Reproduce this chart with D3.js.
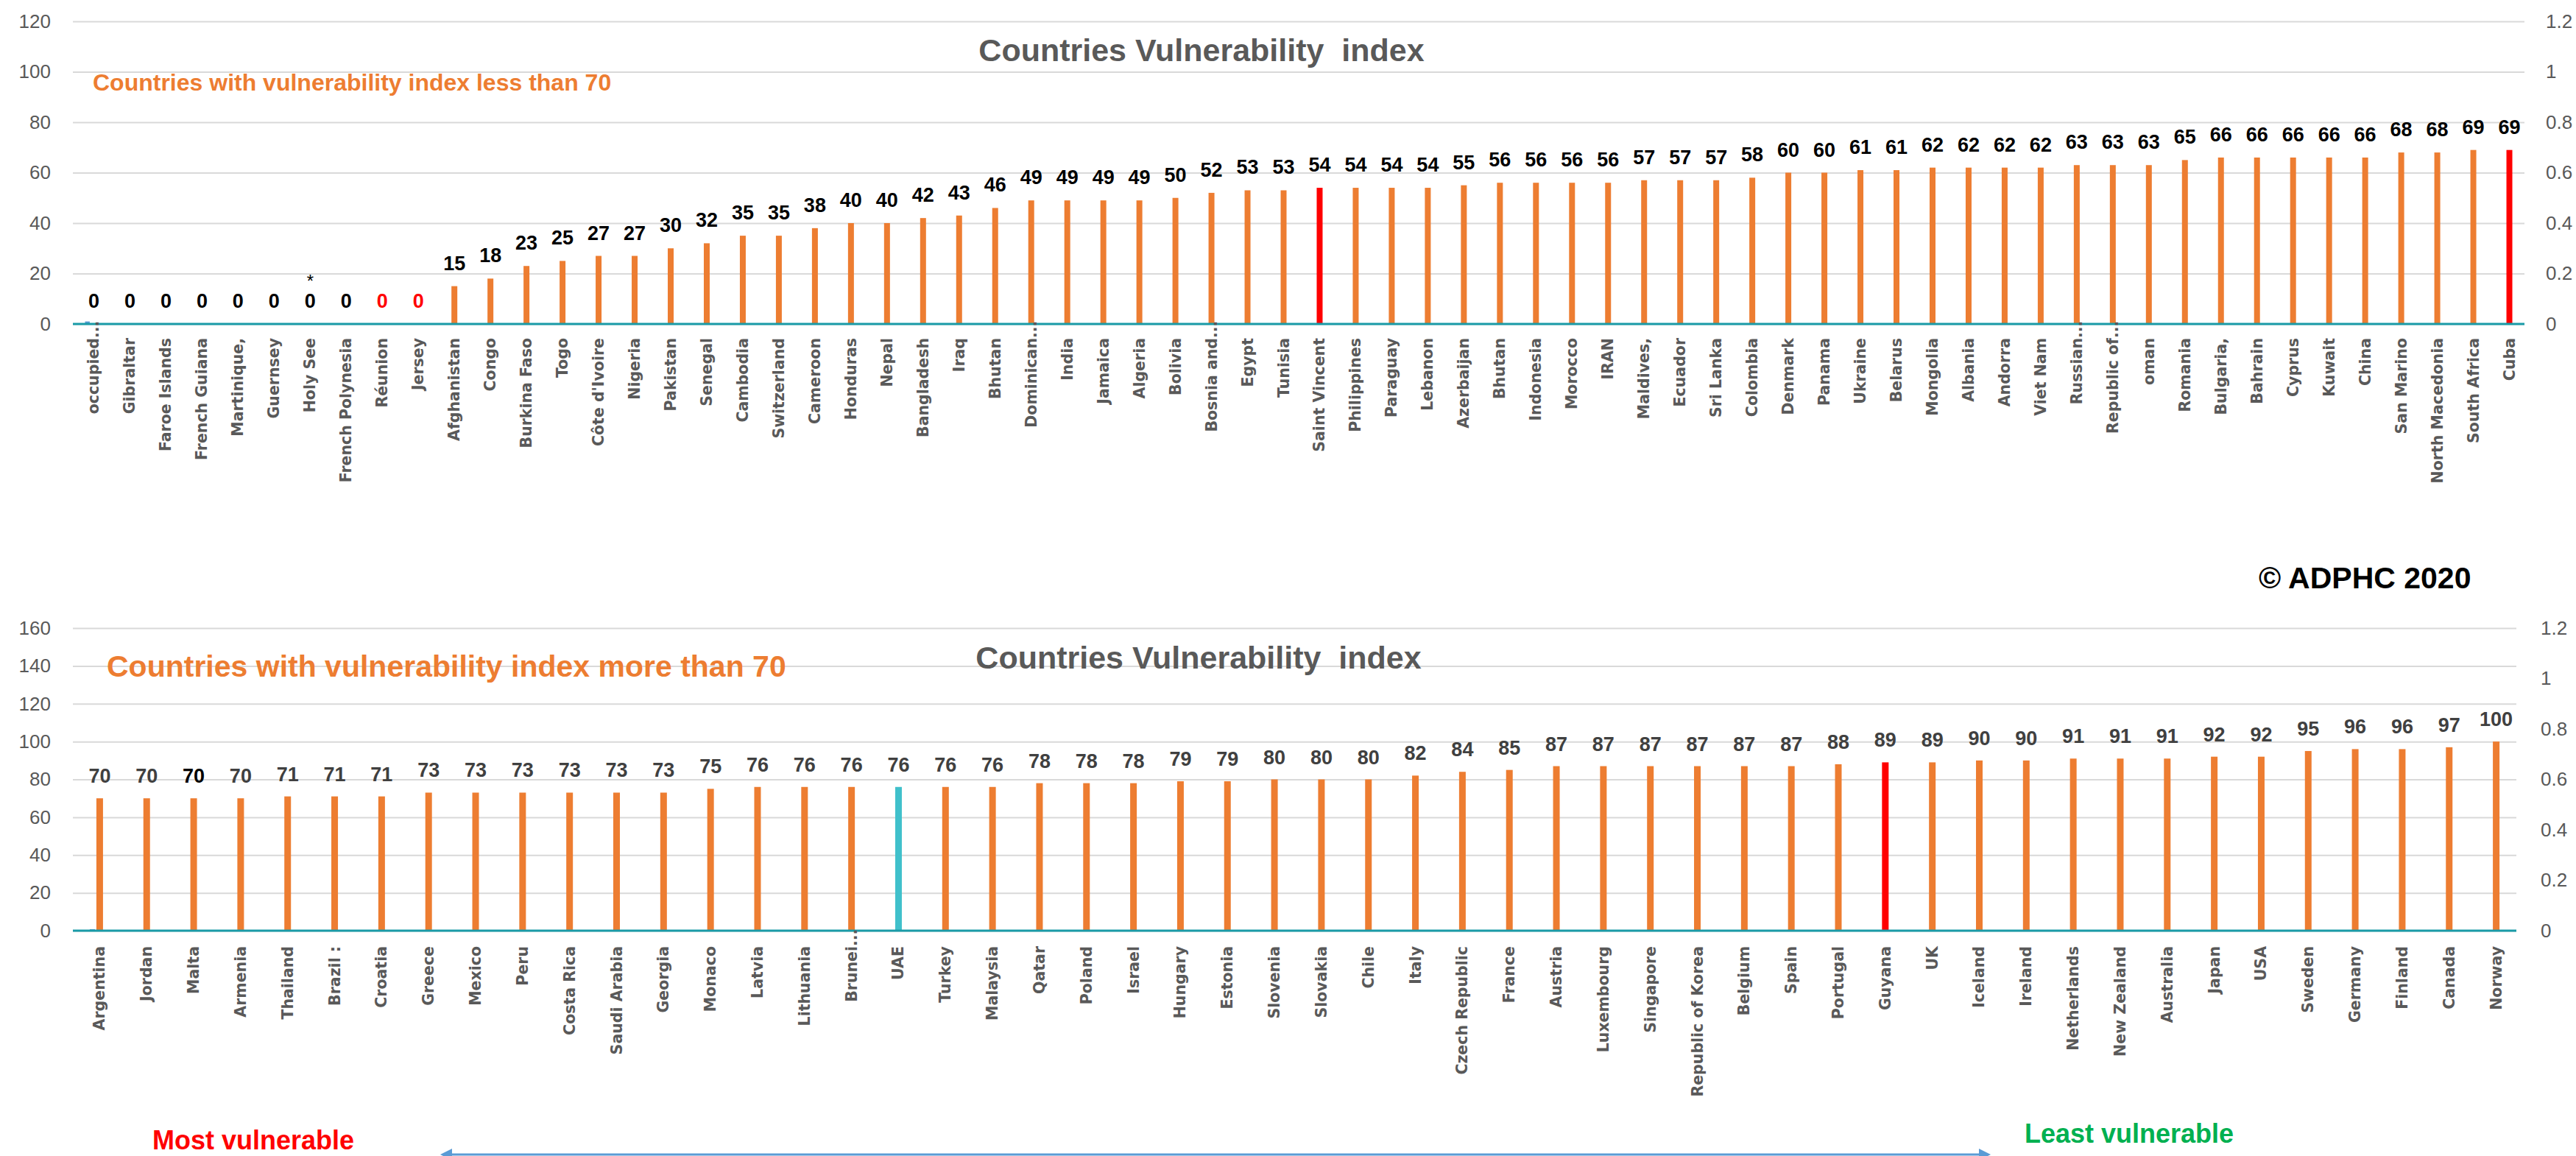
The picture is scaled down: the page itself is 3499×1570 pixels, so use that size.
<!DOCTYPE html>
<html>
<head>
<meta charset="utf-8">
<script src="https://cdn.jsdelivr.net/npm/d3@7"></script>
<style>
  html, body { margin: 0; padding: 0; background: #ffffff; }
  svg { display: block; }
</style>
</head>
<body>
<svg id="chart" width="3499" height="1570"></svg>
<script>
// ---- Data: countries with vulnerability index below 70 ----
const topCategories = [
  "occupied...", "Gibraltar", "Faroe Islands", "French Guiana", "Martinique,", "Guernsey",
  "Holy See", "French Polynesia", "Réunion", "Jersey", "Afghanistan", "Congo", "Burkina Faso",
  "Togo", "Côte d'Ivoire", "Nigeria", "Pakistan", "Senegal", "Cambodia", "Switzerland",
  "Cameroon", "Honduras", "Nepal", "Bangladesh", "Iraq", "Bhutan", "Dominican...", "India",
  "Jamaica", "Algeria", "Bolivia", "Bosnia and...", "Egypt", "Tunisia", "Saint Vincent",
  "Philippines", "Paraguay", "Lebanon", "Azerbaijan", "Bhutan", "Indonesia", "Morocco", "IRAN",
  "Maldives,", "Ecuador", "Sri Lanka", "Colombia", "Denmark", "Panama", "Ukraine", "Belarus",
  "Mongolia", "Albania", "Andorra", "Viet Nam", "Russian...", "Republic of...", "oman",
  "Romania", "Bulgaria,", "Bahrain", "Cyprus", "Kuwait", "China", "San Marino",
  "North Macedonia", "South Africa", "Cuba"
];
const topValues = [
  0, 0, 0, 0, 0, 0, 0, 0, 0, 0,
  15, 18, 23, 25, 27, 27, 30, 32, 35, 35,
  38, 40, 40, 42, 43, 46, 49, 49, 49, 49,
  50, 52, 53, 53, 54, 54, 54, 54, 55, 56,
  56, 56, 56, 57, 57, 57, 58, 60, 60, 61,
  61, 62, 62, 62, 62, 63, 63, 63, 65, 66,
  66, 66, 66, 66, 68, 68, 69, 69
];
// secondary (right-axis) series, only the first category carries a value
const topSecondary = [0.01];

// ---- Data: countries with vulnerability index of 70 and above ----
const bottomCategories = [
  "Argentina", "Jordan", "Malta", "Armenia", "Thailand", "Brazil :", "Croatia", "Greece",
  "Mexico", "Peru", "Costa Rica", "Saudi Arabia", "Georgia", "Monaco", "Latvia", "Lithuania",
  "Brunei...", "UAE", "Turkey", "Malaysia", "Qatar", "Poland", "Israel", "Hungary", "Estonia",
  "Slovenia", "Slovakia", "Chile", "Italy", "Czech Republic", "France", "Austria",
  "Luxembourg", "Singapore", "Republic of Korea", "Belgium", "Spain", "Portugal", "Guyana",
  "UK", "Iceland", "Ireland", "Netherlands", "New Zealand", "Australia", "Japan", "USA",
  "Sweden", "Germany", "Finland", "Canada", "Norway"
];
const bottomValues = [
  70, 70, 70, 70, 71, 71, 71, 73, 73, 73,
  73, 73, 73, 75, 76, 76, 76, 76, 76, 76,
  78, 78, 78, 79, 79, 80, 80, 80, 82, 84,
  85, 87, 87, 87, 87, 87, 87, 88, 89, 89,
  90, 90, 91, 91, 91, 92, 92, 95, 96, 96,
  97, 100
];
const bottomSecondary = [0.006];

// ---- Axis ticks ----
const topLeftTicks = [0, 20, 40, 60, 80, 100, 120];
const bottomLeftTicks = [0, 20, 40, 60, 80, 100, 120, 140, 160];
const rightTicks = [0, 0.2, 0.4, 0.6, 0.8, 1, 1.2];

// ---- Styling ----
const ORANGE = "#ED7D31";
const RED = "#FF0000";
const TEAL = "#40C0CB";
const BLUE = "#5B9BD5";
const AXIS_GREY = "#595959";
const GRID = "#D9D9D9";
const BASELINE = "#1A9BA8";
const NUM_FONT = "'Liberation Sans', Arial, sans-serif";
const CAT_FONT = "'DejaVu Sans', Verdana, sans-serif";

const svg = d3.select("#chart");
svg.append("rect").attr("width", 3499).attr("height", 1570).attr("fill", "#ffffff");

function drawPanel(cfg) {
  const g = svg.append("g");
  const n = cfg.categories.length;
  const x = d3.scaleBand().domain(d3.range(n)).range([cfg.x0, cfg.x1]).padding(0);
  const sub = d3.scaleBand().domain(["secondary", "primary"])
    .range([-cfg.barW, cfg.barW]).padding(0);
  const y = d3.scaleLinear().domain([0, cfg.yMax]).range([cfg.yBase, cfg.yTop]);
  const y2 = d3.scaleLinear().domain([0, 1.2]).range([cfg.yBase, cfg.yTop]);
  const cx = i => x(i) + x.bandwidth() / 2;
  const barMid = i => cx(i) + sub("primary") + sub.bandwidth() / 2;

  // gridlines + left axis labels
  const left = g.append("g").attr("transform", `translate(${cfg.x0},0)`)
    .call(d3.axisLeft(y).tickValues(cfg.leftTicks).tickSize(-(cfg.x1 - cfg.x0))
      .tickPadding(30).tickFormat(d3.format("d")));
  left.select(".domain").remove();
  left.selectAll(".tick line").attr("stroke", GRID).attr("stroke-width", 2);
  left.selectAll(".tick text").attr("fill", AXIS_GREY)
    .style("font-family", NUM_FONT).style("font-size", "26px");

  // right (secondary) axis labels
  const right = g.append("g").attr("transform", `translate(${cfg.x1},0)`)
    .call(d3.axisRight(y2).tickValues(rightTicks).tickSize(0)
      .tickPadding(cfg.rightLabelX - cfg.x1).tickFormat(d => String(+d.toFixed(1))));
  right.select(".domain").remove();
  right.selectAll(".tick text").attr("fill", AXIS_GREY)
    .style("font-family", NUM_FONT).style("font-size", "26px");

  // bars
  g.append("g").selectAll("rect.bar")
    .data(cfg.values)
    .join("rect")
    .attr("class", "bar")
    .attr("x", (d, i) => cx(i) + sub("primary"))
    .attr("y", d => y(d))
    .attr("width", sub.bandwidth())
    .attr("height", d => cfg.yBase - y(d))
    .attr("fill", (d, i) => cfg.barColor(cfg.categories[i]));

  // secondary series
  g.append("g").selectAll("rect.sec")
    .data(cfg.secondary)
    .join("rect")
    .attr("class", "sec")
    .attr("x", (d, i) => cx(i) + sub("secondary"))
    .attr("y", d => y2(d))
    .attr("width", sub.bandwidth() * 0.8)
    .attr("height", d => cfg.yBase - y2(d))
    .attr("fill", BLUE);

  // zero line
  g.append("line")
    .attr("x1", cfg.x0).attr("x2", cfg.x1)
    .attr("y1", y(0)).attr("y2", y(0))
    .attr("stroke", BASELINE).attr("stroke-width", 3);

  // value labels
  g.append("g").selectAll("text")
    .data(cfg.values)
    .join("text")
    .attr("x", (d, i) => barMid(i))
    .attr("y", d => y(d) - cfg.labelGap)
    .attr("text-anchor", "middle")
    .style("font-family", NUM_FONT)
    .style("font-weight", "bold")
    .style("font-size", "27px")
    .attr("fill", (d, i) => cfg.labelColor(cfg.categories[i]))
    .text(d => d);

  // category labels (rotated)
  const cats = g.append("g").selectAll("g")
    .data(cfg.categories)
    .join("g")
    .attr("transform", (d, i) => `translate(${barMid(i)},${cfg.yBase + cfg.catGap}) rotate(-90)`);
  cats.append("text")
    .attr("text-anchor", "end")
    .attr("dominant-baseline", "central")
    .style("font-family", CAT_FONT)
    .style("font-weight", "bold")
    .style("font-size", "20.5px")
    .attr("fill", AXIS_GREY)
    .text(d => d.endsWith("...") ? d.slice(0, -3) : d);
  cats.filter(d => d.endsWith("..."))
    .append("text")
    .attr("text-anchor", "start")
    .attr("dominant-baseline", "central")
    .style("font-family", CAT_FONT)
    .style("font-weight", "bold")
    .style("font-size", "20.5px")
    .attr("fill", AXIS_GREY)
    .text("...");

  return { x, y, barMid };
}

// ---- Upper panel ----
const topPanel = drawPanel({
  categories: topCategories, values: topValues, secondary: topSecondary,
  leftTicks: topLeftTicks, yMax: 120,
  x0: 99, x1: 3429, yBase: 440, yTop: 29, rightLabelX: 3458,
  barW: 8, labelGap: 22, catGap: 19,
  barColor: c => (c === "Saint Vincent" || c === "Cuba") ? RED : ORANGE,
  labelColor: c => (c === "Réunion" || c === "Jersey") ? RED : "#000000"
});

// asterisk note above Holy See
const holy = topCategories.indexOf("Holy See");
svg.append("text")
  .attr("x", topPanel.barMid(holy))
  .attr("y", topPanel.y(0) - 50)
  .attr("text-anchor", "middle")
  .style("font-family", NUM_FONT).style("font-size", "24px")
  .attr("fill", "#000000")
  .text("*");

// ---- Lower panel ----
drawPanel({
  categories: bottomCategories, values: bottomValues, secondary: bottomSecondary,
  leftTicks: bottomLeftTicks, yMax: 160,
  x0: 99, x1: 3418, yBase: 1264, yTop: 853, rightLabelX: 3451,
  barW: 9, labelGap: 21, catGap: 21,
  barColor: c => c === "Guyana" ? RED : (c === "UAE" ? TEAL : ORANGE),
  labelColor: c => c === "Malta" ? "#000000" : "#404040"
});

// ---- Titles and annotations ----
function label(txt, x, y, size, color, anchor) {
  svg.append("text")
    .attr("x", x).attr("y", y)
    .attr("text-anchor", anchor || "start")
    .style("font-family", NUM_FONT)
    .style("font-weight", "bold")
    .style("font-size", size + "px")
    .style("white-space", "pre")
    .attr("fill", color)
    .text(txt);
}

label("Countries Vulnerability  index", 1632, 83, 43, AXIS_GREY, "middle");
label("Countries with vulnerability index less than 70", 126, 123, 32, ORANGE);
label("© ADPHC 2020", 3068, 799, 41, "#000000");
label("Countries Vulnerability  index", 1628, 908, 43, AXIS_GREY, "middle");
label("Countries with vulnerability index more than 70", 145, 919, 41, ORANGE);
label("Most vulnerable", 207, 1561, 36, RED);
label("Least vulnerable", 2750, 1552, 36, "#00B050");

// double-headed arrow along the bottom edge
const arrowY = 1568;
svg.append("line")
  .attr("x1", 604).attr("x2", 2698)
  .attr("y1", arrowY).attr("y2", arrowY)
  .attr("stroke", BLUE).attr("stroke-width", 3);
svg.append("path")
  .attr("d", `M598,${arrowY} L614,${arrowY - 8} L614,${arrowY + 8} Z`)
  .attr("fill", BLUE);
svg.append("path")
  .attr("d", `M2704,${arrowY} L2688,${arrowY - 8} L2688,${arrowY + 8} Z`)
  .attr("fill", BLUE);
</script>
</body>
</html>
